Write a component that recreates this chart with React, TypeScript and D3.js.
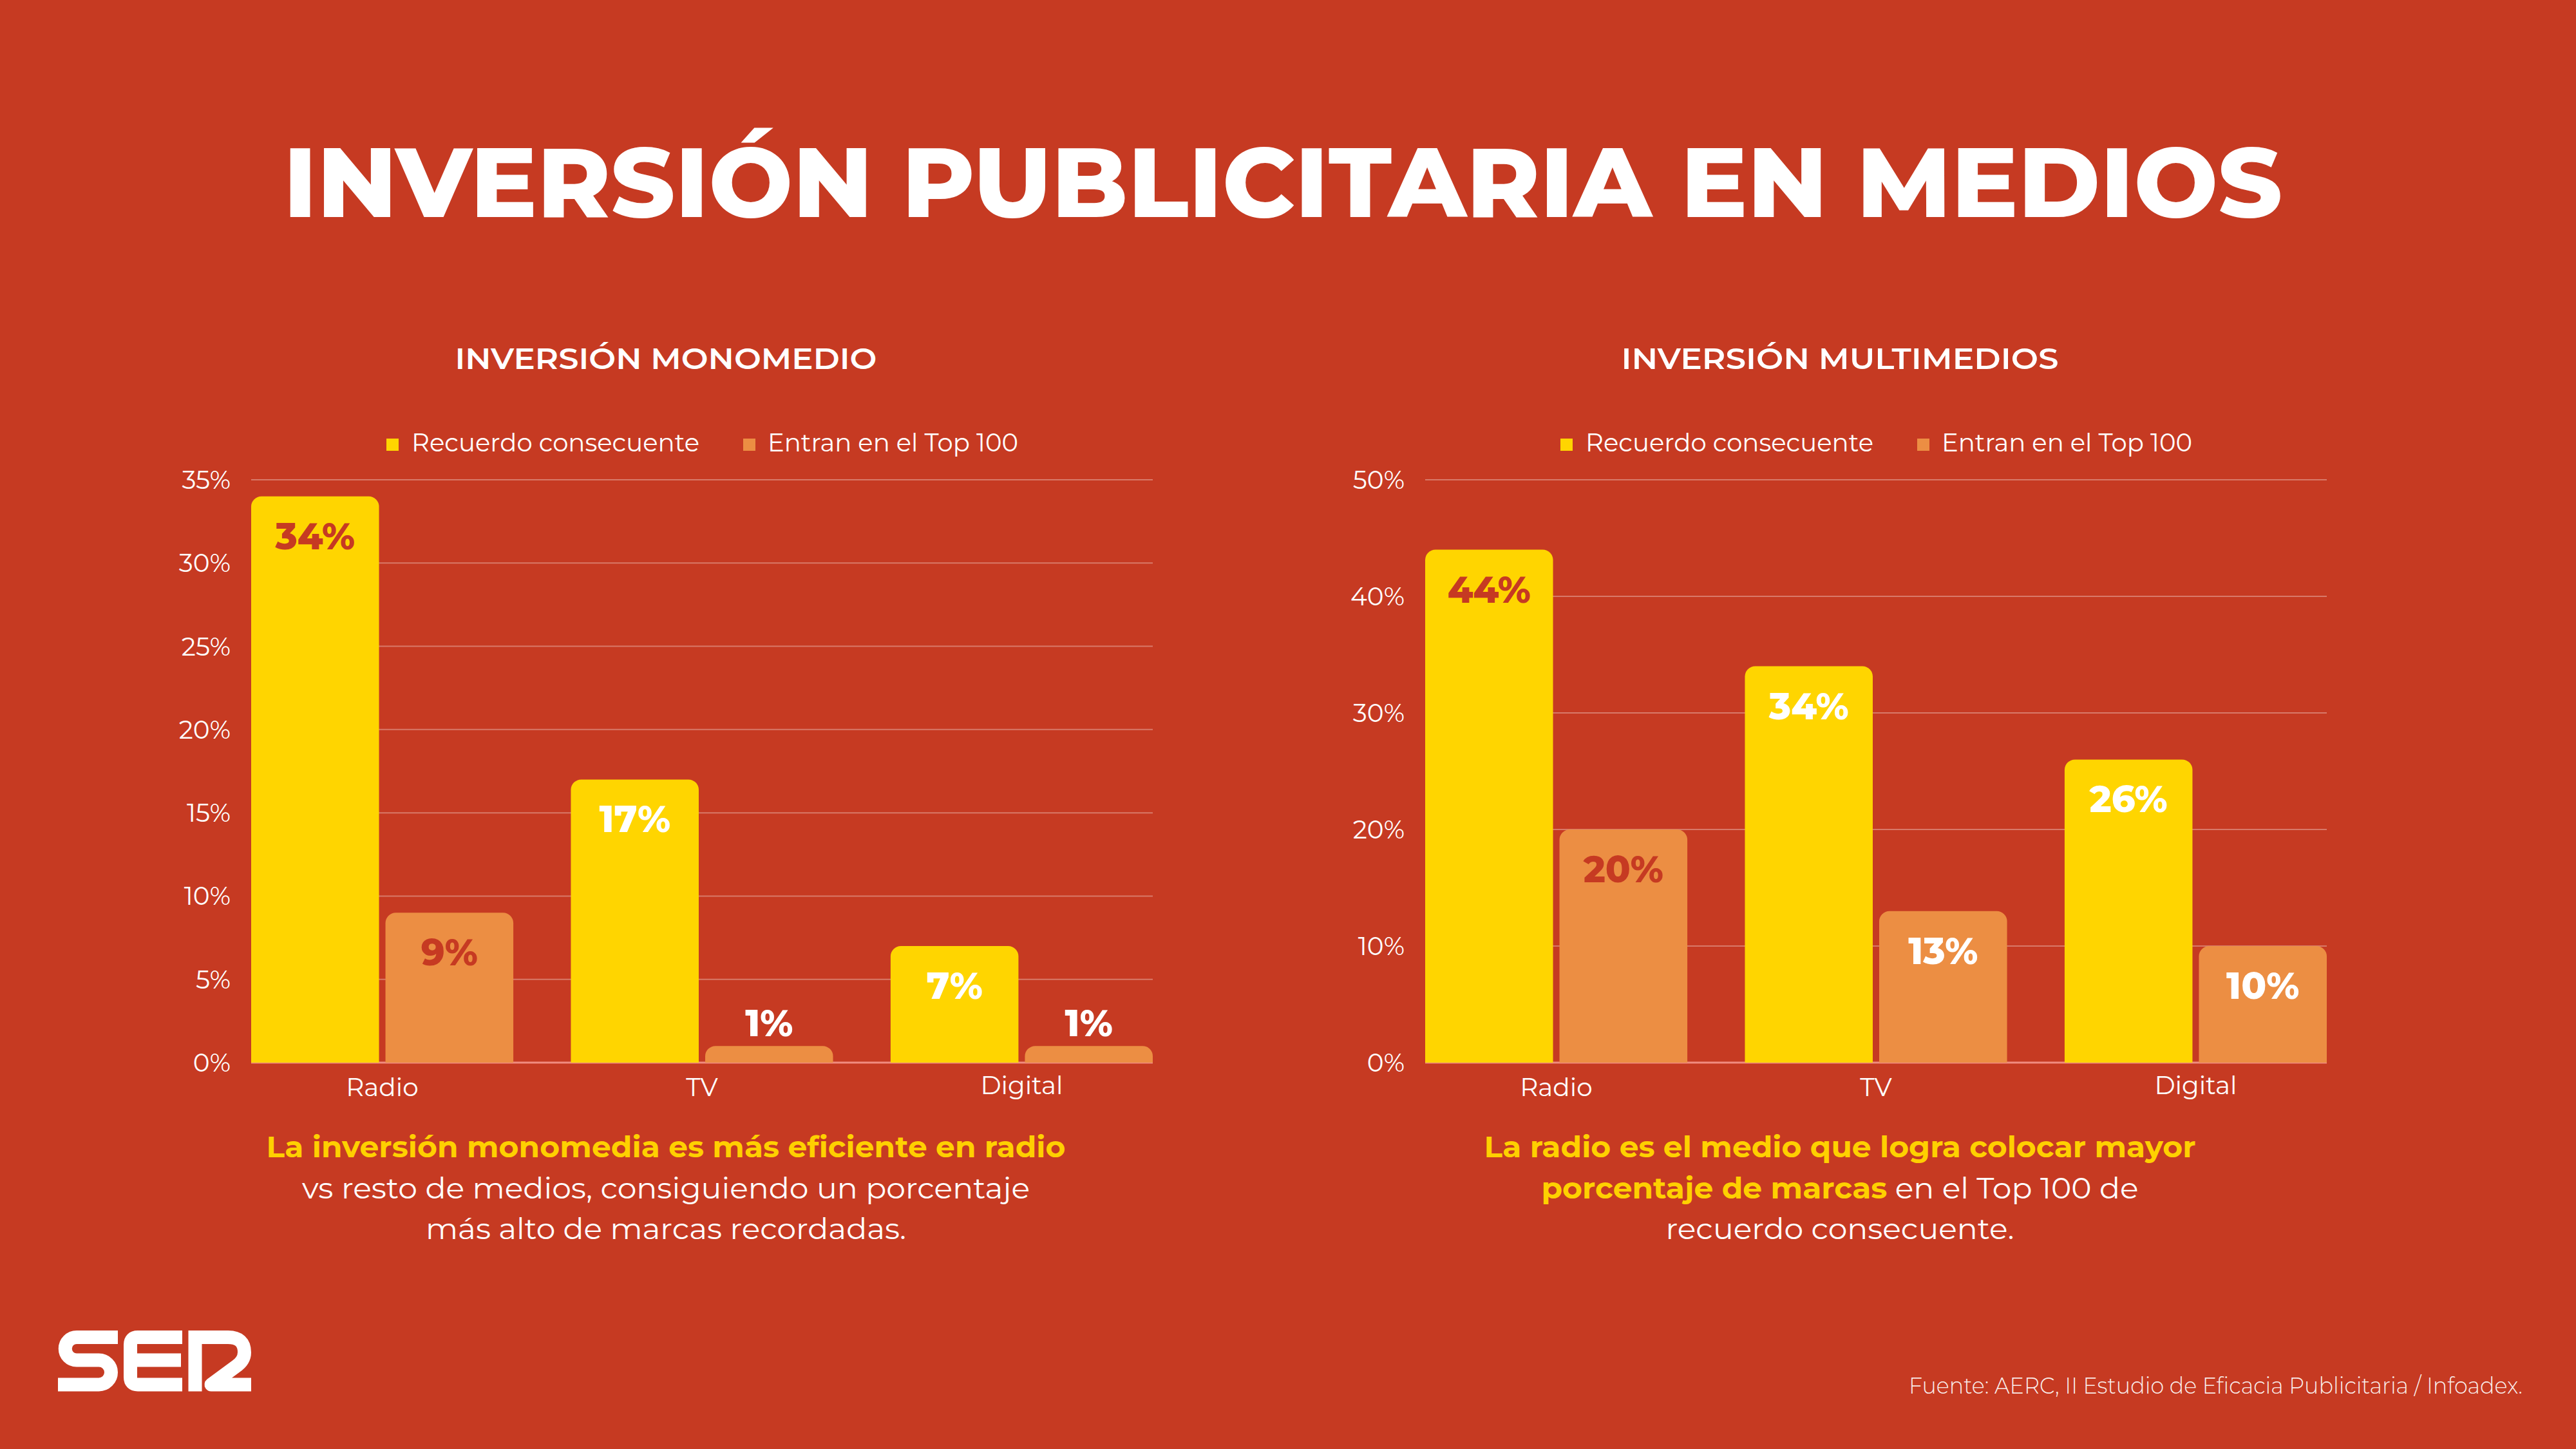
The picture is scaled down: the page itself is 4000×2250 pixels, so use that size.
import React from "react";
import * as d3 from "d3";

const CATEGORIES = ["Radio", "TV", "Digital"];
const SERIES = ["Recuerdo consecuente", "Entran en el Top 100"];
const MONO_RECUERDO = [34, 17, 7];
const MONO_TOP100 = [9, 1, 1];
const MULTI_RECUERDO = [44, 34, 26];
const MULTI_TOP100 = [20, 13, 10];
const MONO_TICKS = [0, 5, 10, 15, 20, 25, 30, 35];
const MULTI_TICKS = [0, 10, 20, 30, 40, 50];

const TITLE = "INVERSIÓN PUBLICITARIA EN MEDIOS";
const MONO_TITLE = "INVERSIÓN MONOMEDIO";
const MULTI_TITLE = "INVERSIÓN MULTIMEDIOS";
const SOURCE = "Fuente: AERC, II Estudio de Eficacia Publicitaria / Infoadex.";

const BG = "#C63A22";
const YELLOW = "#FFD500";
const ORANGE = "#EC8E43";
const CAPTION_YELLOW = "#FFD000";
const FONT = "Montserrat, 'Open Sans', sans-serif";

type Seg = { t: string; bold: boolean };
type Line = { segs: Seg[]; width: number };

const MONO_CAPTION: Line[] = [
  { segs: [{ t: "La inversión monomedia es más eficiente en radio", bold: true }], width: 1241 },
  { segs: [{ t: "vs resto de medios, consiguiendo un porcentaje", bold: false }], width: 1130 },
  { segs: [{ t: "más alto de marcas recordadas.", bold: false }], width: 746 },
];
const MULTI_CAPTION: Line[] = [
  { segs: [{ t: "La radio es el medio que logra colocar mayor", bold: true }], width: 1105 },
  {
    segs: [
      { t: "porcentaje de marcas", bold: true },
      { t: " en el Top 100 de", bold: false },
    ],
    width: 927,
  },
  { segs: [{ t: "recuerdo consecuente.", bold: false }], width: 541 },
];

function topRounded(x: number, y: number, w: number, h: number, r: number) {
  const rr = Math.min(r, w / 2, h);
  return `M${x},${y + h} V${y + rr} A${rr},${rr} 0 0 1 ${x + rr},${y} H${x + w - rr} A${rr},${rr} 0 0 1 ${x + w},${y + rr} V${y + h} Z`;
}

type PanelProps = {
  x0: number;
  yMax: number;
  ticks: number[];
  recuerdo: number[];
  top100: number[];
  title: string;
  titleWidth: number;
  caption: Line[];
};

function Panel({ x0, yMax, ticks, recuerdo, top100, title, titleWidth, caption }: PanelProps) {
  const plotW = 1400;
  const yTop = 745;
  const yBase = 1650;
  const x = d3.scaleBand<string>().domain(CATEGORIES).range([x0, x0 + plotW]).paddingInner(0.18).paddingOuter(0);
  const xi = d3.scaleBand<string>().domain(SERIES).range([0, x.bandwidth()]).paddingInner(0.048);
  const y = d3.scaleLinear().domain([0, yMax]).range([yBase, yTop]);
  const plotCenter = x0 + plotW / 2;
  const panelCenter = plotCenter - 56;
  const legendStart = plotCenter - 490;
  const seriesValues = [recuerdo, top100];
  const colors = [YELLOW, ORANGE];

  return (
    <g>
      <text x={panelCenter} y={573} textAnchor="middle" fill="#fff" fontFamily={FONT} fontWeight={600} fontSize={46} textLength={titleWidth} lengthAdjust="spacingAndGlyphs">
        {title}
      </text>
      {/* legend */}
      <rect x={legendStart} y={681} width={19} height={19} fill={YELLOW} />
      <text x={legendStart + 39} y={701} fill="#fff" fontFamily={FONT} fontSize={39} textLength={447} lengthAdjust="spacingAndGlyphs">
        {SERIES[0]}
      </text>
      <rect x={legendStart + 554} y={681} width={19} height={19} fill={ORANGE} />
      <text x={legendStart + 592} y={701} fill="#fff" fontFamily={FONT} fontSize={39} textLength={389} lengthAdjust="spacingAndGlyphs">
        {SERIES[1]}
      </text>
      {/* grid */}
      {ticks.map((t) => (
        <g key={t}>
          {t !== 0 && <line x1={x0} x2={x0 + plotW} y1={y(t)} y2={y(t)} stroke="rgba(255,255,255,0.32)" strokeWidth={2} />}
          <text x={x0 - 32} y={y(t)} dy="0.36em" textAnchor="end" fill="#fff" fontFamily={FONT} fontSize={39}>
            {`${t}%`}
          </text>
        </g>
      ))}
      <line x1={x0} x2={x0 + plotW} y1={yBase} y2={yBase} stroke="#F08C80" strokeWidth={3} />
      {/* bars */}
      {CATEGORIES.map((c, ci) => (
        <g key={c}>
          {SERIES.map((s, si) => {
            const v = seriesValues[si][ci];
            const bx = (x(c) as number) + (xi(s) as number);
            const bw = xi.bandwidth();
            const by = y(v);
            const bh = yBase - by;
            const inside = bh > 100;
            const labelColor = ci === 0 ? BG : "#fff";
            return (
              <g key={s}>
                <path d={topRounded(bx, by, bw, bh, 16)} fill={colors[si]} />
                <text
                  x={bx + bw / 2}
                  y={inside ? by + 82 : by - 15}
                  textAnchor="middle"
                  fill={inside ? labelColor : "#fff"}
                  fontFamily={FONT}
                  fontWeight={800}
                  fontSize={57}
                >
                  {`${v}%`}
                </text>
              </g>
            );
          })}
          <text x={(x(c) as number) + x.bandwidth() / 2} y={c === "Digital" ? 1699 : 1702} textAnchor="middle" fill="#fff" fontFamily={FONT} fontSize={39}>
            {c}
          </text>
        </g>
      ))}
      {/* caption */}
      {caption.map((line, li) => (
        <text
          key={li}
          x={panelCenter}
          y={1797 + li * 63.5}
          textAnchor="middle"
          fontFamily={FONT}
          fontSize={45}
          textLength={line.width}
          lengthAdjust="spacingAndGlyphs"
        >
          {line.segs.map((sg, k) => (
            <tspan key={k} fill={sg.bold ? CAPTION_YELLOW : "#fff"} fontWeight={sg.bold ? 700 : 400}>
              {sg.t}
            </tspan>
          ))}
        </text>
      ))}
    </g>
  );
}

function SerLogo() {
  const sw = 21;
  return (
    <g fill="none" stroke="#fff" strokeWidth={sw}>
      <path d="M183,2076.5 H119 A17.75,17.75 0 0 0 119,2112 H153.5 A19,19 0 0 1 153.5,2150 H90" />
      <path d="M283,2076.5 H214 Q202.5,2076.5 202.5,2088 V2138.5 Q202.5,2150 214,2150 H283" strokeLinejoin="round" />
      <path d="M202.5,2112 H281" />
      <path d="M303,2066 V2160.5" />
      <path d="M313,2076.5 H354 Q379.5,2076.5 379.5,2100 Q379.5,2113 366,2122 L328,2150 H390" strokeLinejoin="round" />
    </g>
  );
}

export default function App() {
  return (
    <svg
      width={4000}
      height={2250}
      viewBox="0 0 4000 2250"
      style={{ position: "absolute", left: 0, top: 0, display: "block" }}
    >
      <rect x={0} y={0} width={4000} height={2250} fill={BG} />
      <text x={1992} y={337} textAnchor="middle" fill="#fff" fontFamily={FONT} fontWeight={800} fontSize={152} textLength={3104} lengthAdjust="spacingAndGlyphs">
        {TITLE}
      </text>
      <Panel x0={390} yMax={35} ticks={MONO_TICKS} recuerdo={MONO_RECUERDO} top100={MONO_TOP100} title={MONO_TITLE} titleWidth={655} caption={MONO_CAPTION} />
      <Panel x0={2213} yMax={50} ticks={MULTI_TICKS} recuerdo={MULTI_RECUERDO} top100={MULTI_TOP100} title={MULTI_TITLE} titleWidth={679} caption={MULTI_CAPTION} />
      <SerLogo />
      <text x={3917} y={2164} textAnchor="end" fill="#fff" fillOpacity={0.92} fontFamily={FONT} fontWeight={300} fontSize={35} textLength={953} lengthAdjust="spacingAndGlyphs">
        {SOURCE}
      </text>
    </svg>
  );
}
